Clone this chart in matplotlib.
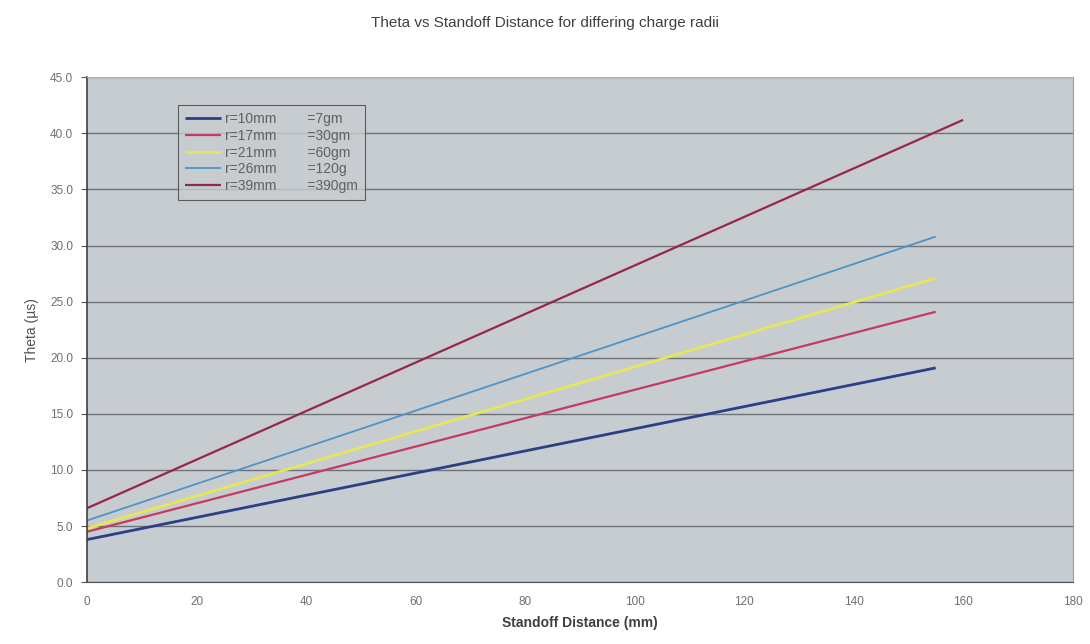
import matplotlib.pyplot as plt
from matplotlib.ticker import FormatStrFormatter

plt.rcParams["font.family"] = ["Liberation Sans", "DejaVu Sans"]

# ── Data: straight-line fits of theta against standoff ─────────────────────────
labels = [
    "r=10mm        =7gm",
    "r=17mm        =30gm",
    "r=21mm        =60gm",
    "r=26mm        =120g",
    "r=39mm        =390gm",
]
standoff_r10 = [0, 155]
theta_r10 = [3.8, 19.1]
standoff_r17 = [0, 155]
theta_r17 = [4.5, 24.1]
standoff_r21 = [0, 155]
theta_r21 = [4.8, 27.1]
standoff_r26 = [0, 155]
theta_r26 = [5.5, 30.8]
standoff_r39 = [0, 160]
theta_r39 = [6.6, 41.2]

series = [
    (standoff_r10, theta_r10, "#2b3f86", 2.0),
    (standoff_r17, theta_r17, "#c43a62", 1.6),
    (standoff_r21, theta_r21, "#e6e65a", 2.0),
    (standoff_r26, theta_r26, "#4f93c6", 1.3),
    (standoff_r39, theta_r39, "#95264f", 1.6),
]

fig = plt.figure(figsize=(10.9, 6.44), dpi=100)
ax = fig.add_axes([0.080, 0.096, 0.904, 0.784])
ax.set_facecolor("#c7ccd0")

for lab, (x, y, c, lw) in zip(labels, series):
    ax.plot(x, y, color=c, lw=lw, label=lab, solid_capstyle="butt")

ax.set_xlim(0, 180)
ax.set_ylim(0, 45)
ax.set_xticks(range(0, 181, 20))
ax.set_yticks(range(0, 46, 5))
ax.yaxis.set_major_formatter(FormatStrFormatter("%.1f"))
ax.yaxis.grid(True, color="#6f7377", lw=1.0)
ax.set_axisbelow(True)

ax.tick_params(axis="both", labelsize=8.5, labelcolor="#707070", color="#555555")
ax.tick_params(axis="x", length=0, pad=10)
ax.tick_params(axis="y", length=4, pad=6)
ax.spines["left"].set_color("#404040")
ax.spines["left"].set_linewidth(1.2)
ax.spines["bottom"].set_color("#505050")
ax.spines["right"].set_color("#9a9ea2")
ax.spines["top"].set_color("#b0b4b8")

ax.set_xlabel("Standoff Distance (mm)", fontsize=10, color="#404040",
              fontweight="bold", labelpad=6)
ax.set_ylabel("Theta (µs)", fontsize=10, color="#505050", labelpad=8)
fig.suptitle("Theta vs Standoff Distance for differing charge radii",
             fontsize=11, color="#404040", y=0.975)

leg = ax.legend(loc="upper left", bbox_to_anchor=(0.092, 0.945), fontsize=10,
                frameon=True, fancybox=False, borderpad=0.5, labelspacing=0.2,
                handlelength=2.6, handletextpad=0.3, borderaxespad=0.0)
leg.get_frame().set_facecolor("#c7ccd0")
leg.get_frame().set_edgecolor("#404040")
leg.get_frame().set_linewidth(0.8)
for t in leg.get_texts():
    t.set_color("#606060")

fig.savefig("out.png", dpi=100)
